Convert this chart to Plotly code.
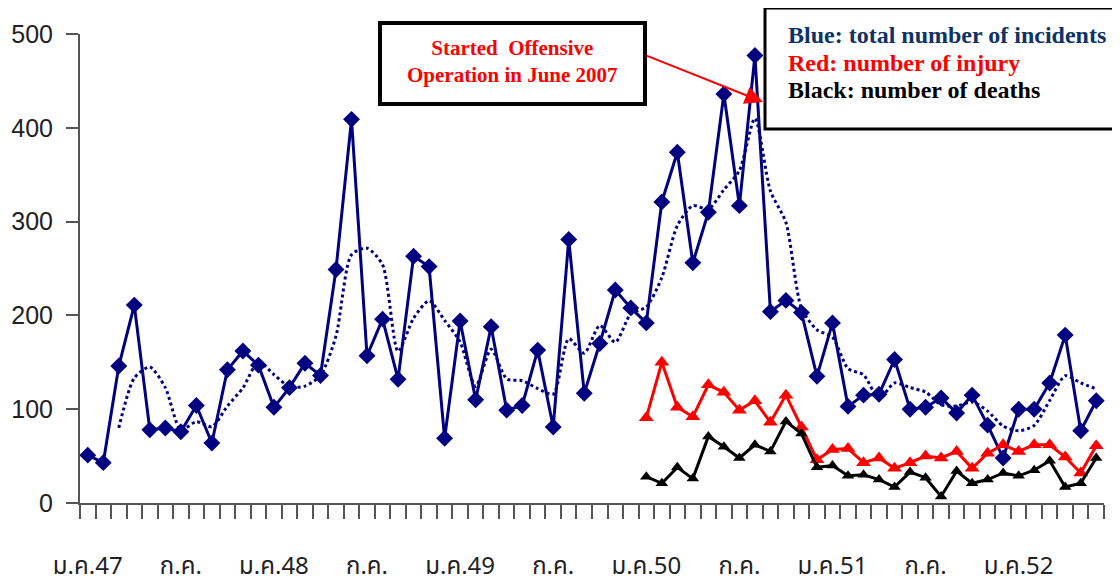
import plotly.graph_objects as go
import pandas as pd

# Months Jan 2004 (ม.ค.47) .. Jun 2009 -> 66 monthly categories
months = list(range(66))
tick_pos = [0, 6, 12, 18, 24, 30, 36, 42, 48, 54, 60]
tick_labels = ["ม.ค.47", "ก.ค.", "ม.ค.48", "ก.ค.", "ม.ค.49", "ก.ค.",
               "ม.ค.50", "ก.ค.", "ม.ค.51", "ก.ค.", "ม.ค.52"]

incidents = [51, 43, 146, 211, 78, 80, 76, 104, 64, 142, 162, 147,
             102, 123, 149, 136, 249, 409, 157, 196, 132, 263, 252, 69,
             194, 110, 188, 99, 104, 163, 81, 281, 117, 170, 227, 208,
             192, 321, 374, 256, 310, 436, 317, 477, 204, 216, 203, 135,
             192, 103, 115, 116, 153, 100, 102, 112, 96, 115, 83, 48,
             100, 100, 128, 179, 77, 109]

inj_months = list(range(36, 66))
injuries = [91, 150, 102, 92, 126, 118, 99, 109, 86, 115, 81, 46,
            57, 58, 43, 48, 37, 43, 50, 48, 55, 37, 53, 62,
            55, 62, 62, 49, 32, 61]
deaths = [28, 21, 38, 26, 71, 60, 48, 62, 55, 87, 74, 38,
          40, 29, 30, 25, 17, 33, 27, 7, 34, 21, 25, 32,
          29, 35, 45, 17, 21, 48]

# 3-month moving-average trendline of the incidents series
trend = pd.Series(incidents).rolling(3).mean()

NAVY = "#000080"
fig = go.Figure()
fig.add_trace(go.Scatter(x=months, y=trend, mode="lines",
                         line=dict(color=NAVY, width=3, dash="dot", shape="spline",
                                   smoothing=0.7),
                         hoverinfo="skip", cliponaxis=False))
fig.add_trace(go.Scatter(x=months, y=incidents, mode="lines+markers",
                         line=dict(color=NAVY, width=3),
                         marker=dict(symbol="diamond", size=13, color=NAVY),
                         cliponaxis=False))
fig.add_trace(go.Scatter(x=inj_months, y=injuries, mode="lines+markers",
                         line=dict(color="#ff0000", width=3),
                         marker=dict(symbol="triangle-up", size=13, color="#ff0000"),
                         cliponaxis=False))
fig.add_trace(go.Scatter(x=inj_months, y=deaths, mode="lines+markers",
                         line=dict(color="#000000", width=3),
                         marker=dict(symbol="triangle-up", size=11, color="#000000"),
                         cliponaxis=False))

# page body has an 8px margin: reference pixel = figure pixel + 8
OFF = 8
L, R, T, B = 72, 24, 26, 89
W, H = 1120, 584
pw, ph = W - L - R, H - T - B


def px(xp):
    return (xp - OFF - L) / pw


def py(yp):
    return (H - B - (yp - OFF)) / ph


fig.update_layout(
    width=W, height=H,
    margin=dict(l=L, r=R, t=T, b=B, autoexpand=False),
    paper_bgcolor="white", plot_bgcolor="white",
    showlegend=False,
    xaxis=dict(range=[-0.5, 65.5], tickvals=tick_pos, ticktext=tick_labels,
               ticks="", showgrid=False, zeroline=False, automargin=False,
               showline=True, linecolor="#555555", linewidth=2,
               tickfont=dict(family="Tahoma, 'Noto Sans Thai', 'DejaVu Sans', sans-serif",
                             size=24, color="#222222"),
               ticklabelstandoff=40,
               minor=dict(tick0=-0.5, dtick=1, ticks="outside", ticklen=14,
                          tickwidth=2, tickcolor="#555555", showgrid=False)),
    yaxis=dict(range=[0, 500], tickvals=[0, 100, 200, 300, 400, 500],
               ticks="outside", ticklen=12, tickwidth=2, tickcolor="#555555",
               showgrid=False, zeroline=False, showline=True, automargin=False,
               linecolor="#555555", linewidth=2,
               tickfont=dict(family="Liberation Sans, Arial", size=25, color="#222222"),
               ticklabelstandoff=8),
)

# Annotation box 1
fig.add_shape(type="rect", xref="paper", yref="paper",
              x0=px(380), x1=px(645), y0=py(104), y1=py(23),
              line=dict(color="black", width=4), fillcolor="white", layer="above")
fig.add_annotation(xref="paper", yref="paper", x=px(512), y=py(61.5),
                   text="<b>Started\u00a0 Offensive<br>Operation in June 2007</b>",
                   showarrow=False, xanchor="center", yanchor="middle",
                   font=dict(family="Liberation Serif, Times New Roman", size=21,
                             color="#ff0000"))
# Arrow
fig.add_annotation(xref="paper", yref="paper", x=px(763), y=py(102),
                   ax=645 - 763, ay=55 - 102, text="", showarrow=True,
                   arrowhead=2, arrowsize=1.8, arrowwidth=2, arrowcolor="#ff0000")

# Legend box
fig.add_shape(type="rect", xref="paper", yref="paper",
              x0=px(765), x1=px(1130), y0=py(129), y1=py(8),
              line=dict(color="black", width=3), fillcolor="white", layer="above")
legend_lines = [("Blue: total number of incidents", "#0f3366", 35),
                ("Red: number of injury", "#ff0000", 63),
                ("Black: number of deaths", "#000000", 90)]
for txt, col, yp in legend_lines:
    fig.add_annotation(xref="paper", yref="paper", x=px(786), y=py(yp),
                       text="<b>" + txt + "</b>", showarrow=False,
                       xanchor="left", yanchor="middle",
                       font=dict(family="Liberation Serif, Times New Roman", size=24,
                                 color=col))

fig.write_html("out.html")
